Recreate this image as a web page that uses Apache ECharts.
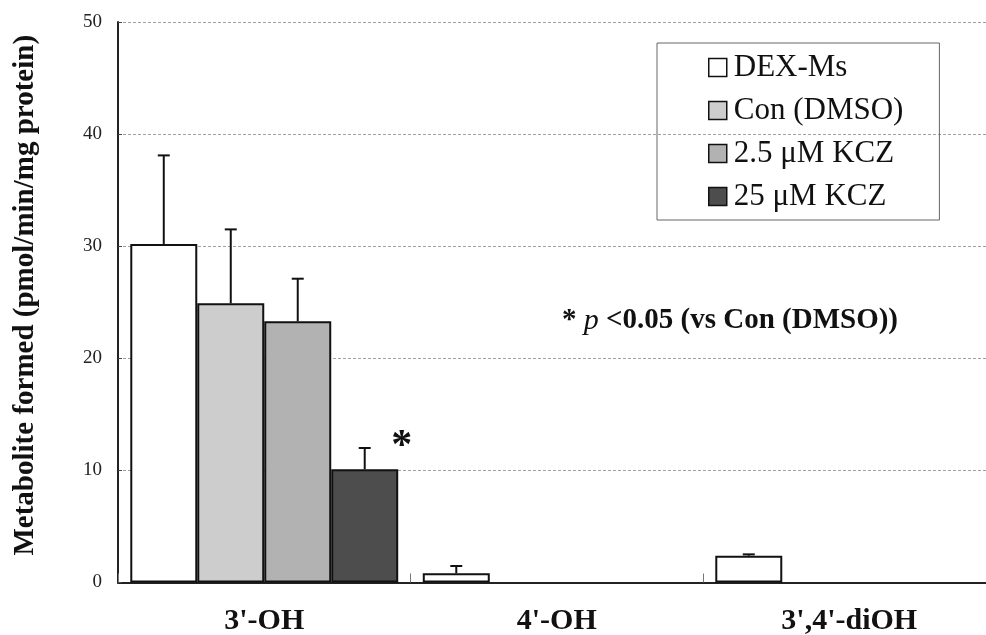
<!DOCTYPE html>
<html>
<head>
<meta charset="utf-8">
<script src="https://cdn.jsdelivr.net/npm/echarts@6/dist/echarts.min.js"></script>
<style>
html,body{margin:0;padding:0;background:#fff;}
#chart{width:986px;height:635px;}
</style>
</head>
<body>
<div id="chart"></div>
<script>
// ---- data ----
const categories = ["3'-OH", "4'-OH", "3',4'-diOH"];
const seriesNames = ["DEX-Ms", "Con (DMSO)", "2.5 μM KCZ", "25 μM KCZ"];
const dexMs      = [30.2, 0.82, 2.39];
const dexMsSd    = [7.9, 0.65, 0.12];
const conDmso    = [24.9, null, null];
const conDmsoSd  = [6.6, null, null];
const kcz2_5     = [23.3, null, null];
const kcz2_5Sd   = [3.8, null, null];
const kcz25      = [10.1, null, null];
const kcz25Sd    = [1.9, null, null];
const significant = [true, false, false]; // for 25 μM KCZ vs Con
const yMin = 0, yMax = 50, yInterval = 10;

const means = [dexMs, conDmso, kcz2_5, kcz25];
const sds = [dexMsSd, conDmsoSd, kcz2_5Sd, kcz25Sd];
const fills = ['#ffffff', '#cdcdcd', '#b2b2b2', '#4d4d4d'];
const CAT_GAP = 0.084;
const serif = '"Liberation Serif", "Times New Roman", serif';

const errData = [];
means.forEach((arr, k) => {
  arr.forEach((v, i) => {
    if (v != null && sds[k][i] != null) errData.push([i, v, sds[k][i], k]);
  });
});

const barSeries = means.map((arr, k) => ({
  name: seriesNames[k],
  type: 'bar',
  data: arr,
  barGap: '0%',
  barCategoryGap: (CAT_GAP * 100) + '%',
  itemStyle: { color: fills[k], borderColor: '#111', borderWidth: 2 },
  label: k === 3 ? {
    show: true,
    position: 'top',
    offset: [37, 4],
    formatter: p => significant[p.dataIndex] ? '*' : '',
    fontFamily: serif,
    fontSize: 42,
    fontWeight: 'bold',
    color: '#111'
  } : { show: false },
  z: 2
}));

const errSeries = {
  type: 'custom',
  name: 'err',
  data: errData,
  z: 5,
  renderItem: function (params, api) {
    const idx = api.value(0), val = api.value(1), sd = api.value(2), k = api.value(3);
    const catW = api.size([1, 0])[0];
    const barW = catW * (1 - CAT_GAP) / 4;
    const x = api.coord([idx, 0])[0] + (k - 1.5) * barW;
    const yb = api.coord([idx, val])[1];
    const yt = api.coord([idx, val + sd])[1];
    const st = { stroke: '#111', lineWidth: 2 };
    return {
      type: 'group',
      children: [
        { type: 'line', shape: { x1: x, y1: yb, x2: x, y2: yt }, style: st },
        { type: 'line', shape: { x1: x - 6, y1: yt, x2: x + 6, y2: yt }, style: st }
      ]
    };
  }
};

const chart = echarts.init(document.getElementById('chart'));
chart.setOption({
  animation: false,
  backgroundColor: '#fff',
  grid: { left: 118, width: 877.5, top: 22, height: 560.5, outerBoundsMode: 'none', containLabel: false },
  legend: {
    data: seriesNames,
    orient: 'vertical',
    left: 657,
    top: 43,
    padding: [9, 36, 8, 51],
    itemGap: 12,
    itemWidth: 18,
    itemHeight: 18,
    icon: 'rect',
    borderColor: '#666',
    borderWidth: 1,
    itemStyle: { borderColor: '#111', borderWidth: 1.5 },
    textStyle: { fontFamily: serif, fontSize: 31, color: '#111', padding: [0, 0, 0, 2] }
  },
  xAxis: {
    type: 'category',
    data: categories,
    axisLine: { lineStyle: { color: '#222', width: 2 } },
    axisTick: { show: true, inside: true, length: 9, lineStyle: { color: '#777' } },
    axisLabel: { fontFamily: serif, fontSize: 30, fontWeight: 'bold', color: '#111', margin: 24 },
    splitLine: { show: false }
  },
  yAxis: {
    type: 'value',
    min: yMin, max: yMax, interval: yInterval,
    name: 'Metabolite formed (pmol/min/mg protein)',
    nameLocation: 'middle',
    nameGap: 78,
    nameTextStyle: { fontFamily: serif, fontSize: 29, fontWeight: 'bold', color: '#111', padding: [0, 0, 0, 14] },
    axisLine: { show: true, lineStyle: { color: '#222', width: 2 } },
    axisTick: { show: true, inside: true, length: 4, lineStyle: { color: '#444' } },
    axisLabel: { fontFamily: serif, fontSize: 19, color: '#222', margin: 16 },
    splitLine: { show: true, lineStyle: { color: '#a0a0a0', type: [3, 2], width: 1 } }
  },
  graphic: [{
    type: 'text',
    left: 562,
    top: 306,
    style: {
      text: '{b|* }{i|p}{b| <0.05 (vs Con (DMSO))}',
      rich: {
        b: { fontFamily: serif, fontSize: 29, fontWeight: 'bold', fill: '#111' },
        i: { fontFamily: serif, fontSize: 30, fontStyle: 'italic', fill: '#111' }
      }
    }
  }],
  series: barSeries.concat([errSeries])
});
</script>
</body>
</html>
